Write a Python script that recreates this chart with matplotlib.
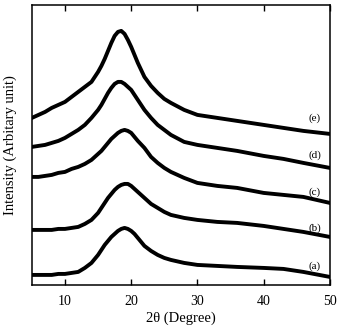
import matplotlib.pyplot as plt

# --- DATA (height in arbitrary units) ---
two_theta = [5, 6, 7, 8, 9, 10, 11, 12, 13, 14, 15, 15.5, 16, 16.5, 17, 17.5, 18, 18.5, 19, 19.5,
             20, 20.5, 21, 22, 23, 24, 25, 26, 28, 30, 33, 36, 40, 43, 46, 50]
curve_a = [10, 10, 10, 10, 11, 11, 12, 13, 17, 22, 30, 35, 40, 44, 48, 51, 54, 56, 57, 56,
           54, 51, 47, 39, 34, 30, 27, 25, 22, 20, 19, 18, 17, 16, 13, 8]
curve_b = [55, 55, 55, 55, 56, 56, 57, 58, 61, 65, 72, 77, 82, 87, 91, 95, 98, 100, 101, 101,
           99, 96, 93, 87, 81, 77, 73, 70, 67, 65, 63, 62, 59, 56, 53, 48]
curve_c = [108, 108, 109, 110, 112, 113, 116, 118, 121, 125, 131, 134, 138, 142, 146, 149, 152, 154, 155, 154,
           152, 148, 144, 137, 128, 122, 117, 113, 107, 102, 99, 97, 92, 90, 88, 82]
curve_d = [138, 139, 140, 142, 144, 147, 151, 155, 160, 167, 175, 180, 186, 192, 197, 201, 203, 203, 201, 198,
           195, 190, 185, 175, 167, 160, 155, 150, 143, 140, 137, 134, 129, 126, 122, 117]
curve_e = [167, 170, 173, 177, 180, 183, 188, 193, 198, 203, 213, 219, 226, 234, 242, 249, 253, 254, 251, 245,
           238, 230, 222, 208, 199, 192, 186, 182, 175, 170, 167, 164, 160, 157, 154, 151]
labels = ["(a)", "(b)", "(c)", "(d)", "(e)"]
label_y = [19, 57, 93, 130, 167]

plt.rcParams["font.family"] = ["Liberation Serif", "DejaVu Serif"]

fig = plt.figure(figsize=(3.39, 3.26), dpi=100)
ax = fig.add_axes([0.094, 0.126, 0.879, 0.859])

for ys in [curve_a, curve_b, curve_c, curve_d, curve_e]:
    ax.plot(two_theta, ys, color="black", lw=2.8, solid_joinstyle="round")

for lab, ly in zip(labels, label_y):
    ax.text(47.7, ly, lab, fontsize=8, ha="center", va="center")

ax.set_xlim(5, 50)
ax.set_ylim(0, 280)
ax.set_xticks([10, 20, 30, 40, 50])
ax.set_yticks([])
ax.tick_params(axis="x", direction="in", top=True, length=4, width=1, labelsize=10, pad=7)
for s in ax.spines.values():
    s.set_linewidth(1.1)
ax.set_xlabel("2θ (Degree)", fontsize=10.5, labelpad=3)
ax.set_ylabel("Intensity (Arbitary unit)", fontsize=10.5, labelpad=11)

fig.savefig("out.png", dpi=100)
